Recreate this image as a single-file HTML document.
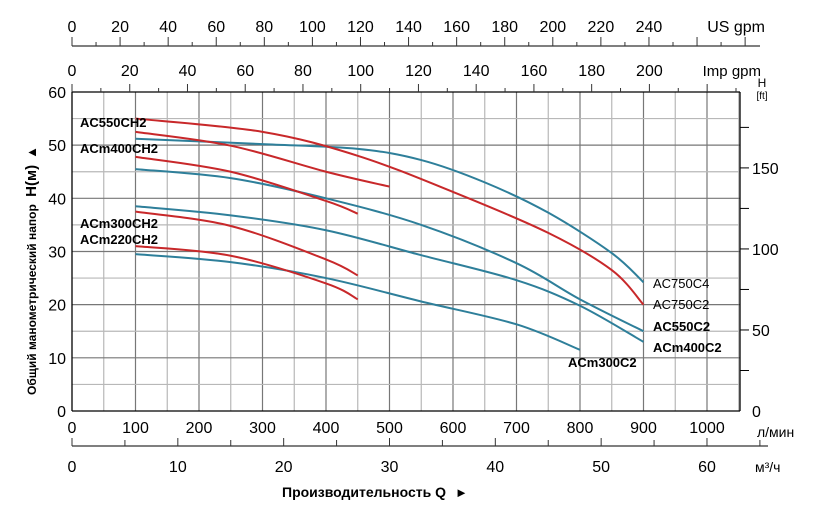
<!DOCTYPE html>
<html><head><meta charset="utf-8"><style>
html,body{margin:0;padding:0;background:#fff;}
svg{display:block;font-family:"Liberation Sans",Arial,sans-serif;}
</style></head><body>
<svg id="s" width="820" height="511" viewBox="0 0 820 511" xmlns="http://www.w3.org/2000/svg"></svg>
<script>
const s=document.getElementById('s');let o='';
const X=q=>72+0.635*q, Y=h=>411-5.317*h;
for(let q=50;q<=1050;q+=50){const x=X(q);o+=`<line x1="${x}" y1="92" x2="${x}" y2="411" stroke="${q%100?'#b8b8b8':'#777'}" stroke-width="1.2"/>`;}
for(let h=5;h<60;h+=5){const y=Y(h);o+=`<line x1="72" y1="${y}" x2="740" y2="${y}" stroke="${h%10?'#b8b8b8':'#777'}" stroke-width="1.2"/>`;}
o+=`<line x1="72" y1="92" x2="740" y2="92" stroke="#000" stroke-width="1.3"/>`;
o+=`<line x1="72" y1="411" x2="740" y2="411" stroke="#000" stroke-width="1.3"/>`;
o+=`<line x1="72" y1="92" x2="72" y2="411" stroke="#000" stroke-width="1.3"/>`;
o+=`<line x1="740" y1="92" x2="740" y2="411" stroke="#000" stroke-width="1.3"/>`;
for(let h=0;h<=60;h+=10){o+=`<text x="66" y="${Y(h)+6}" font-size="16" text-anchor="end">${h}</text>`;}
for(let q=0;q<=1000;q+=100){o+=`<text x="${X(q)}" y="433" font-size="16" text-anchor="middle">${q}</text>`;}
o+=`<text x="757" y="437" font-size="14">л/мин</text>`;
for(let f=25;f<=175;f+=25){const y=Y(f*0.3048);o+=`<line x1="740" y1="${y}" x2="749" y2="${y}" stroke="#000"/>`;}
[0,50,100,150].forEach(f=>{o+=`<text x="752" y="${Y(f*0.3048)+6}" font-size="16">${f}</text>`;});
o+=`<text x="762" y="87" font-size="12" text-anchor="middle">H</text><text x="762" y="99" font-size="10" text-anchor="middle">[ft]</text>`;
o+=`<line x1="72" y1="446" x2="768" y2="446" stroke="#333" stroke-width="1.2"/>`;
for(let m=0;m<=65;m+=5){const x=72+10.583*m;o+=`<line x1="${x}" y1="446" x2="${x}" y2="${m%10?440:438}" stroke="#333"/>`;if(m%10==0)o+=`<text x="${x}" y="472" font-size="16" text-anchor="middle">${m}</text>`;}
o+=`<text x="755" y="472" font-size="14">м³/ч</text>`;
o+=`<text x="282" y="497" font-size="14" font-weight="bold">Производительность Q</text><text x="455" y="497" font-size="13">►</text>`;
o+=`<line x1="72" y1="46" x2="760" y2="46" stroke="#333" stroke-width="1.2"/>`;
for(let g=0;g<=280;g+=10){const x=72+2.404*g;if(x>760)break;o+=`<line x1="${x}" y1="46" x2="${x}" y2="${g%20?42:37}" stroke="#333"/>`;if(g%20==0&&g<=240)o+=`<text x="${x}" y="32" font-size="16" text-anchor="middle">${g}</text>`;}
o+=`<text x="765" y="32" font-size="16" text-anchor="end">US gpm</text>`;
for(let g=0;g<=230;g+=10){const x=72+2.887*g;if(x>740)break;o+=`<line x1="${x}" y1="92" x2="${x}" y2="${g%20?88:84}" stroke="#333"/>`;if(g%20==0&&g<=200)o+=`<text x="${x}" y="76" font-size="16" text-anchor="middle">${g}</text>`;}
o+=`<text x="761" y="76" font-size="15" text-anchor="end">Imp gpm</text>`;
function path(p,c){const P=p.map(a=>[X(a[0]),Y(a[1])]);let d=`M${P[0][0]},${P[0][1]}`;
for(let i=0;i<P.length-1;i++){const p0=P[i-1]||P[i],p1=P[i],p2=P[i+1],p3=P[i+2]||P[i+1];
d+=` C${p1[0]+(p2[0]-p0[0])/6},${p1[1]+(p2[1]-p0[1])/6} ${p2[0]-(p3[0]-p1[0])/6},${p2[1]-(p3[1]-p1[1])/6} ${p2[0]},${p2[1]}`;}
o+=`<path d="${d}" fill="none" stroke="${c}" stroke-width="2"/>`;}
const R='#c8282a',B='#2e7f9a';
path([[100,29.5],[250,28],[400,25],[550,20.6],[700,16.3],[800,11.5]],B);
path([[100,38.5],[250,36.8],[400,34],[550,29.3],[700,24.6],[800,19.8],[900,13]],B);
path([[100,45.5],[250,43.8],[400,40],[550,35],[700,27.8],[800,21],[900,15]],B);
path([[100,51.2],[300,50.2],[450,49.3],[550,47.2],[650,43],[750,37.3],[850,29.7],[900,24.2]],B);
path([[100,31],[250,29.2],[400,24],[450,21]],R);
path([[100,37.5],[250,34.8],[400,28.5],[450,25.5]],R);
path([[100,47.8],[250,45],[400,39.5],[450,37.1]],R);
path([[100,52.5],[250,49.9],[400,45],[500,42.2]],R);
path([[100,55],[300,52.5],[450,48],[600,41.2],[750,33.5],[850,26.5],[900,20]],R);
const L=(x,y,t,b)=>o+=`<text x="${x}" y="${y}" font-size="13" ${b?'font-weight="bold"':''}>${t}</text>`;
L(80,127,'AC550CH2',1);L(80,153,'ACm400CH2',1);L(80,228,'ACm300CH2',1);L(80,244,'ACm220CH2',1);
L(653,288,'AC750C4');L(653,309,'AC750C2');L(653,331,'AC550C2',1);L(653,352,'ACm400C2',1);L(568,367,'ACm300C2',1);
o+=`<text transform="translate(36,395) rotate(-90)" font-size="12" font-weight="bold">Общий манометрический напор <tspan font-size="15" dx="4">H(м)</tspan><tspan dx="6" font-size="13">▲</tspan></text>`;
s.innerHTML=o;
</script>
</body></html>
